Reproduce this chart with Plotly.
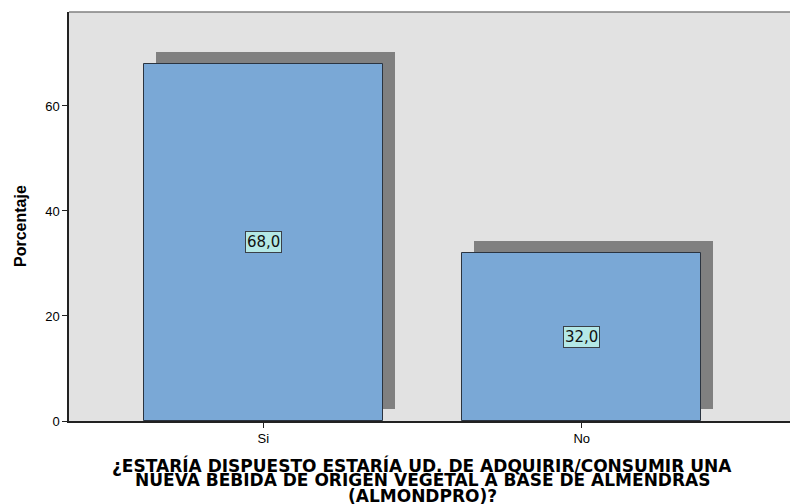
import plotly.graph_objects as go

categories = ["Si", "No"]
values = [68.0, 32.0]
y_ticks = [0, 20, 40, 60]
y_title = "Porcentaje"
x_title_lines = [
    "¿ESTARÍA DISPUESTO ESTARÍA UD. DE ADQUIRIR/CONSUMIR UNA",
    "NUEVA BEBIDA DE ORIGEN VEGETAL A BASE DE ALMENDRAS",
    "(ALMONDPRO)?",
]

FONT = "Arial, Liberation Sans, sans-serif"
WIDE = "DejaVu Sans, Arial, sans-serif"
# page has an 8px body margin: figure coords = page coords - 8
W, H = 790, 496
ML, MR, MT, MB = 61, 0, 4, 83
PW, PH = W - ML - MR, H - MT - MB
bar_w = 0.75
shadow_dx = 0.038
shadow_dy = 2.2

fig = go.Figure()
# shadow
fig.add_trace(go.Bar(
    x=categories, y=values, base=shadow_dy,
    width=bar_w, offset=-bar_w / 2 + shadow_dx,
    marker=dict(color="#808080", line=dict(width=0)),
    hoverinfo="skip", showlegend=False,
))
# main bars
fig.add_trace(go.Bar(
    x=categories, y=values,
    width=bar_w, offset=-bar_w / 2,
    marker=dict(color="#7aa8d6", line=dict(color="#2b3440", width=1)),
    showlegend=False,
))

for c, v in zip(categories, values):
    fig.add_annotation(
        x=c, y=v / 2, xref="x", yref="y",
        text=f"{v:.1f}".replace(".", ","),
        showarrow=False,
        font=dict(family=WIDE, size=15, color="#111111"),
        bgcolor="#b4e8e6", bordercolor="#3a4048", borderwidth=1, borderpad=1,
    )

center_px = 414
line_y = [457, 472, 488]
for txt, yp in zip(x_title_lines, line_y):
    fig.add_annotation(
        x=(center_px - ML) / PW, y=-(yp - (H - MB)) / PH,
        xref="paper", yref="paper", text="<b>" + txt + "</b>", showarrow=False,
        font=dict(family=WIDE, size=17, color="#000000"),
        xanchor="center", yanchor="middle",
    )

fig.add_annotation(
    x=-(ML - 12) / PW, y=(H - MB - 218) / PH, xref="paper", yref="paper",
    text="<b>" + y_title + "</b>", textangle=-90, showarrow=False,
    font=dict(family=FONT, size=16, color="#000000"),
    xanchor="center", yanchor="middle",
)

fig.add_shape(type="line", xref="paper", yref="paper", x0=0, x1=1, y0=1, y1=1,
              line=dict(color="#808080", width=1.5))

fig.update_layout(
    width=W, height=H,
    margin=dict(l=ML, r=MR, t=MT, b=MB),
    paper_bgcolor="white", plot_bgcolor="#e2e2e2",
    barmode="overlay", bargap=0,
    font=dict(family=FONT, size=13, color="#000000"),
    xaxis=dict(
        type="category", range=[-0.61, 1.679],
        showgrid=False, zeroline=False,
        showline=True, linecolor="#222222", linewidth=1.5,
        ticks="outside", ticklen=5, tickcolor="#222222",
        tickfont=dict(family=FONT, size=13),
    ),
    yaxis=dict(
        range=[0, 77.9], tickvals=y_ticks,
        showgrid=False, zeroline=False,
        showline=True, linecolor="#222222", linewidth=1.5,
        ticks="outside", ticklen=5, tickcolor="#222222",
        tickfont=dict(family=FONT, size=13),
    ),
)

fig.write_html("out.html")
